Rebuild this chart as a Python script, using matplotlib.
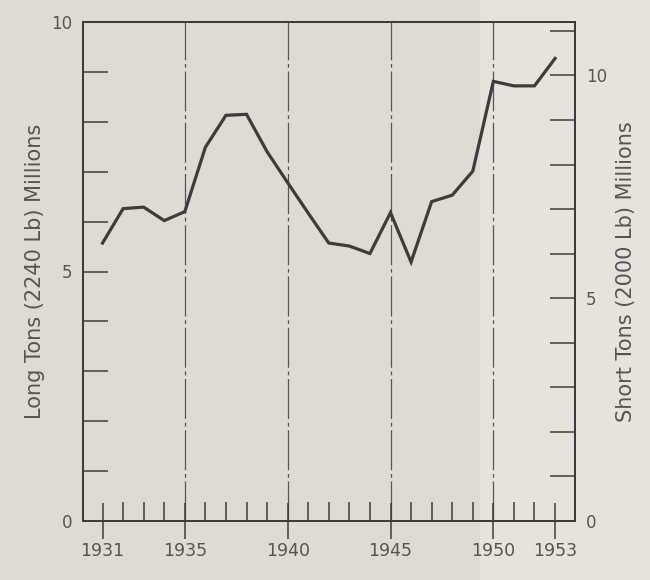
import matplotlib.pyplot as plt
from matplotlib.patches import Rectangle

years = list(range(1931, 1954))
long_tons = [5.57, 6.26, 6.29, 6.02, 6.20, 7.49, 8.13, 8.15, 7.40, 6.78, 6.17,
             5.57, 5.51, 5.36, 6.18, 5.19, 6.40, 6.53, 7.01, 8.81, 8.72, 8.72, 9.27]
year_labels = [1931, 1935, 1940, 1945, 1950, 1953]
grid_years = [1935, 1940, 1945, 1950]

ink = '#3c3c3c'
txt = '#555555'

plt.rcParams['font.family'] = ['DejaVu Sans']

fig = plt.figure(figsize=(6.5, 5.8), dpi=100)
fig.patch.set_facecolor('#dedbd4')
# lighter strip of the scanned page on the right
fig.patches.append(Rectangle((480 / 650, 0), 1 - 480 / 650, 1, transform=fig.transFigure,
                             facecolor='#e6e3dd', edgecolor='none', zorder=-5))

ax = fig.add_axes([83 / 650, 1 - 521 / 580, 492 / 650, 499 / 580])
ax.set_facecolor('none')

for g in grid_years:
    ax.axvline(g, color='#555555', lw=0.9, ls=(0, (32, 3, 3, 3)), zorder=1)

ax.plot(years, long_tons, color=ink, lw=2.3, solid_joinstyle='miter', zorder=3)

ax.set_xlim(1930.05, 1953.97)
ax.set_ylim(0, 10)

for s in ax.spines.values():
    s.set_color(ink)
    s.set_linewidth(1.4)

# y axis (long tons)
ax.set_yticks([0, 5, 10])
ax.set_yticks(range(0, 11), minor=True)
ax.tick_params(axis='y', which='both', direction='in', length=18, width=1.1,
               color=ink, labelcolor=txt, labelsize=12, pad=8)
ax.set_ylabel('Long Tons (2240 Lb) Millions', fontsize=15, color=txt, labelpad=4)

# x axis
ax.set_xticks(year_labels)
ax.set_xticks(years, minor=True)
ax.tick_params(axis='x', which='minor', direction='in', length=14, width=1.1, color=ink)
ax.tick_params(axis='x', which='major', direction='inout', length=26, width=1.1,
               color=ink, labelcolor=txt, labelsize=12.5, pad=2)

# right axis (short tons)
ax2 = ax.twinx()
ax2.set_ylim(0, 10 * 2240 / 2000)
ax2.set_yticks([0, 5, 10])
ax2.set_yticks(range(0, 12), minor=True)
ax2.tick_params(axis='y', which='both', direction='in', length=18, width=1.1,
                color=ink, labelcolor=txt, labelsize=12, pad=8)
ax2.set_ylabel('Short Tons (2000 Lb) Millions', fontsize=15, color=txt, labelpad=6)
for s in ax2.spines.values():
    s.set_color(ink)
    s.set_linewidth(1.4)

fig.savefig('out.png', dpi=100, facecolor=fig.get_facecolor())
